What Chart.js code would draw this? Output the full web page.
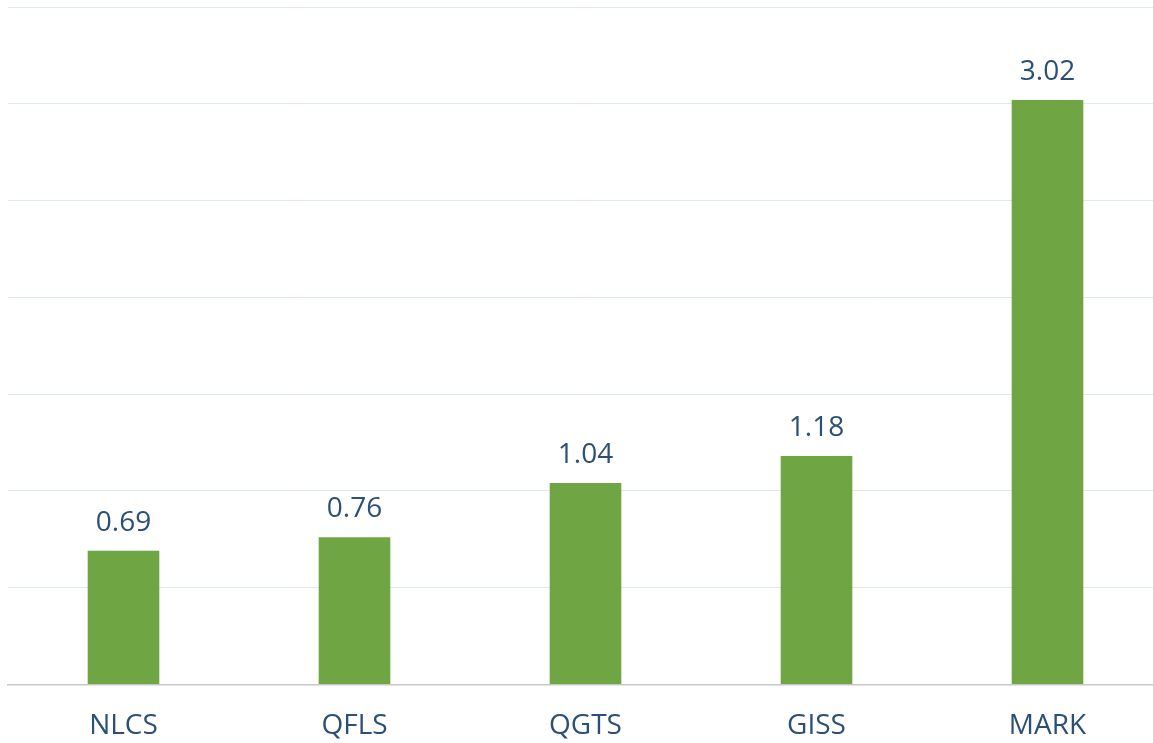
<!DOCTYPE html>
<html>
<head>
<meta charset="utf-8">
<script src="https://cdn.jsdelivr.net/npm/chart.js@4/dist/chart.umd.min.js"></script>
<style>
  html, body { margin: 0; padding: 0; background: #fff; overflow: hidden; }
  #wrap { position: relative; width: 1163px; height: 768px; }
</style>
</head>
<body>
<div id="wrap"><canvas id="chart"></canvas></div>
<script>
const categories = ['NLCS', 'QFLS', 'QGTS', 'GISS', 'MARK'];
const values = [0.69, 0.76, 1.04, 1.18, 3.02];

const textColor = '#2b5077';

// Value labels above bars
const valueLabels = {
  id: 'valueLabels',
  afterDatasetsDraw(chart) {
    const ctx = chart.ctx;
    const meta = chart.getDatasetMeta(0);
    ctx.save();
    ctx.font = '28px "Open Sans", sans-serif';
    ctx.fillStyle = textColor;
    ctx.textAlign = 'center';
    ctx.textBaseline = 'alphabetic';
    meta.data.forEach((bar, i) => {
      ctx.fillText(values[i].toFixed(2), bar.x, bar.y - 20);
    });
    ctx.restore();
  }
};

new Chart(document.getElementById('chart'), {
  type: 'bar',
  data: {
    labels: categories,
    datasets: [{
      data: values,
      backgroundColor: '#70a544',
      barPercentage: 0.31,
      categoryPercentage: 1
    }]
  },
  options: {
    responsive: true,
    maintainAspectRatio: false,
    animation: false,
    layout: { padding: { left: 8, top: 7, right: 0, bottom: 0 } },
    plugins: { legend: { display: false }, tooltip: { enabled: false } },
    scales: {
      x: {
        grid: { display: false, drawTicks: false },
        border: { display: true, color: '#c8c8c8', width: 1.5 },
        ticks: {
          color: textColor,
          font: { family: '"Open Sans", sans-serif', size: 28 },
          padding: 25
        }
      },
      y: {
        min: 0,
        max: 3.5,
        ticks: { display: false, stepSize: 0.5 },
        grid: { color: '#dce8f4', drawTicks: false, lineWidth: 1 },
        border: { display: false }
      }
    }
  },
  plugins: [valueLabels]
});
</script>
</body>
</html>
